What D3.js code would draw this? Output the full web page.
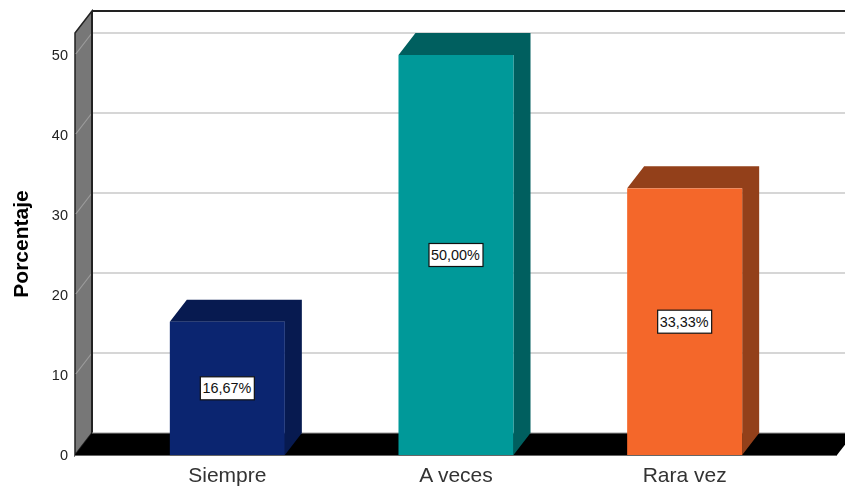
<!DOCTYPE html>
<html><head><meta charset="utf-8">
<script src="https://cdn.jsdelivr.net/npm/d3@7"></script>
<style>
html,body{margin:0;padding:0;background:#fff;overflow:hidden}
svg{display:block;filter:blur(0.35px)}
text{font-family:"Liberation Sans",Arial,sans-serif}
</style></head><body>
<svg id="c" width="845" height="486"></svg>
<script>
const categories = ["Siempre","A veces","Rara vez"];
const values = [16.67,50,33.33];
const valueLabels = ["16,67%","50,00%","33,33%"];
const frontColors = ["#0b2570","#009999","#f4672a"];
const sideColors = ["#071a50","#005f5f","#93401a"];
const yTicks = [0,10,20,30,40,50];
const axisTitle = "Porcentaje";

const depthX = 17, depthY = 22;
const svg = d3.select("#c");
const y = d3.scaleLinear().domain([0,50]).range([455,55]);
const x = d3.scaleBand().domain(categories).range([75,837]).paddingInner(0.497).paddingOuter(0.4147);
const line = d3.line();
const wallTop = 11, right = 860;

// back wall
svg.append("rect").attr("x",75+depthX).attr("y",wallTop).attr("width",right).attr("height",y(0)-depthY-wallTop).attr("fill","#fff");
// gridlines on back wall
yTicks.filter(d=>d>0).forEach(d=>{
  svg.append("line").attr("x1",75+depthX).attr("x2",right).attr("y1",y(d)-depthY).attr("y2",y(d)-depthY)
    .attr("stroke","#d6d6d6").attr("stroke-width",2);
});
// side wall
svg.append("path").attr("d",line([[75,wallTop+depthY],[75+depthX,wallTop],[75+depthX,y(0)-depthY],[75,y(0)]])+"Z")
  .attr("fill","#777").attr("stroke","#222").attr("stroke-width",1.5);
yTicks.filter(d=>d>0).forEach(d=>{
  svg.append("line").attr("x1",75.8).attr("x2",75+depthX-0.8).attr("y1",y(d)-1).attr("y2",y(d)-depthY+1)
    .attr("stroke","#9c9c9c").attr("stroke-width",1.2);
});
// top border
svg.append("line").attr("x1",75+depthX).attr("x2",right).attr("y1",wallTop).attr("y2",wallTop).attr("stroke","#222").attr("stroke-width",2);
// back edge of wall
svg.append("line").attr("x1",75+depthX).attr("x2",75+depthX).attr("y1",wallTop).attr("y2",y(0)-depthY).attr("stroke","#222").attr("stroke-width",2);
// floor
svg.append("path").attr("d",line([[75,y(0)],[75+depthX,y(0)-depthY],[837+depthX,y(0)-depthY],[837,y(0)]])+"Z").attr("fill","#000");
svg.append("line").attr("x1",75+depthX).attr("x2",right).attr("y1",y(0)-depthY).attr("y2",y(0)-depthY).attr("stroke","#999").attr("stroke-width",1);
svg.append("line").attr("x1",75).attr("x2",837).attr("y1",y(0)+.5).attr("y2",y(0)+.5).attr("stroke","#666").attr("stroke-width",1);

// bars
const bars = svg.selectAll("g.bar").data(categories).join("g").attr("class","bar");
bars.each(function(c,i){
  const g = d3.select(this), x0 = x(c), w = x.bandwidth(), t = y(values[i]), b = y(0);
  g.append("path").attr("d",line([[x0,t],[x0+depthX,t-depthY],[x0+w+depthX,t-depthY],[x0+w+depthX,b-depthY],[x0+w,b],[x0+w,t]])+"Z").attr("fill",sideColors[i]);
  g.append("rect").attr("x",x0).attr("y",t).attr("width",w).attr("height",b-t).attr("fill",frontColors[i]);
  const cx = x0+w/2, cy=(t+b)/2;
  g.append("rect").attr("x",cx-27).attr("y",cy-11.5).attr("width",54).attr("height",23).attr("fill","#fff").attr("stroke","#111").attr("stroke-width",1.2);
  g.append("text").attr("x",cx-0.5).attr("y",cy+5).attr("text-anchor","middle").attr("font-size",14.4).attr("fill","#111").text(valueLabels[i]);
});

// axes
const yAxis = svg.append("g").attr("transform","translate(75,0)").call(d3.axisLeft(y).tickValues(yTicks).tickSize(0).tickPadding(7));
yAxis.select(".domain").remove();
yAxis.selectAll("text").attr("font-size",14.5).attr("fill","#222").style("font-family",'"Liberation Sans",Arial,sans-serif');
const xAxis = svg.append("g").attr("transform","translate(0,455)").call(d3.axisBottom(x).tickSize(0).tickPadding(12));
xAxis.select(".domain").remove();
xAxis.selectAll("text").attr("font-size",21).attr("fill","#333").style("font-family",'"Liberation Sans",Arial,sans-serif');

svg.append("text").attr("transform","translate(28,244) rotate(-90)").attr("text-anchor","middle")
  .attr("font-size",21).attr("font-weight","bold").attr("fill","#000").text(axisTitle);
</script></body></html>
